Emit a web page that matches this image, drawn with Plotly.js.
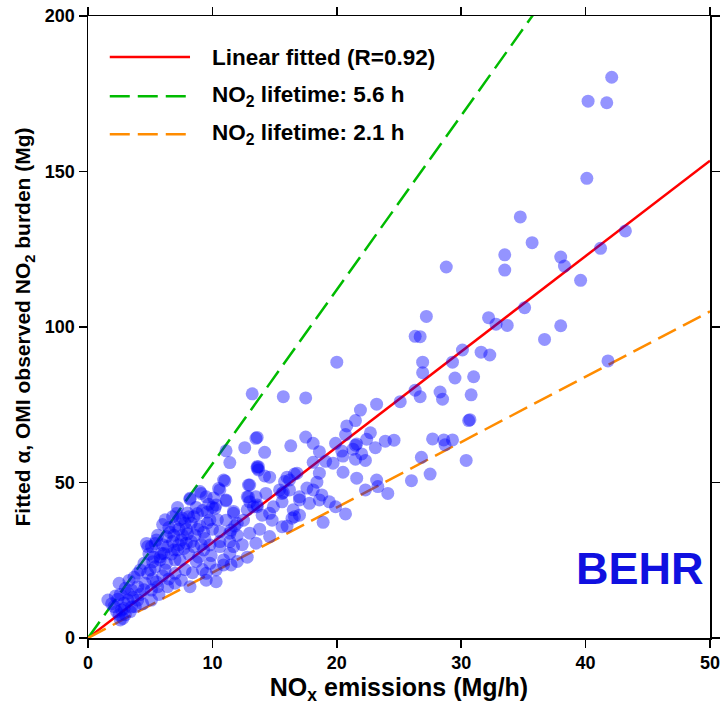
<!DOCTYPE html>
<html>
<head>
<meta charset="utf-8">
<script src="https://cdn.plot.ly/plotly-3.0.1.min.js"></script>
<style>html,body{margin:0;padding:0;background:#fff;}</style>
</head>
<body>
<div id="chart" style="width:722px;height:713px;"></div>
<script>
// NOx emissions (Mg/h) and fitted NO2 burden (Mg)
const noxEmissions = [
 1.6,1.9,2.1,2.3,2.5,2.6,2.7,2.8,2.9,3.0,3.2,3.2,3.5,3.5,3.8,4.0,4.0,3.3,2.4,2.2,3.0,3.7,4.2,4.4,2.6,3.4,
 4.6,4.8,4.8,5.1,5.1,5.4,5.4,5.6,5.9,5.5,5.1,4.7,5.8,5.0,4.2,5.8,4.5,5.2,5.7,4.5,5.3,4.9,5.5,6.0,
 6.2,6.3,6.4,6.4,6.3,7.2,7.0,7.0,7.5,6.9,6.1,7.4,7.7,7.0,6.6,7.0,7.4,6.8,7.6,7.9,6.5,7.8,7.3,6.0,7.2,6.8,
 8.2,8.2,8.5,8.7,9.0,9.5,9.1,9.3,9.8,9.8,9.5,9.5,8.2,8.0,8.8,9.6,8.3,9.0,9.8,8.6,9.4,10.0,8.1,8.9,9.2,8.4,10.0,9.7,8.5,9.3,7.6,9.9,
 10.3,10.3,10.9,11.4,10.6,11.7,10.9,11.5,12.0,10.6,11.4,10.6,11.5,11.4,11.1,10.2,10.3,11.1,11.7,11.1,10.5,10.6,10.9,11.0,11.4,11.1,11.7,10.4,11.8,12.0,10.1,
 12.6,13.2,13.5,13.6,13.7,13.0,12.9,12.8,12.9,13.5,13.0,13.6,13.3,12.8,12.5,12.0,13.0,14.0,14.2,14.2,13.6,13.7,13.6,13.6,12.4,13.5,12.8,13.8,
 14.6,14.3,14.9,14.8,14.6,14.6,15.6,15.6,15.6,15.8,15.4,16.0,16.2,16.2,16.6,16.0,16.4,16.5,16.6,17.0,17.0,16.3,15.7,17.5,17.5,16.8,17.0,15.7,
 17.8,18.6,18.8,19.4,19.9,20.7,18.9,18.1,17.6,18.4,18.6,18.1,19.7,19.1,20.5,18.6,18.1,19.9,20.4,20.0,20.5,
 20.8,20.7,21.5,21.9,23.2,25.1,21.5,22.7,22.4,21.6,21.3,22.0,22.3,21.5,23.1,23.9,24.6,21.6,23.2,23.3,24.1,22.3,
 26.0,27.5,26.8,30.4,27.7,28.6,29.3,28.7,30.6,30.7,26.3,26.7,28.3,28.5,30.8,29.5,31.0,26.9,26.9,29.3,26.3,26.7,27.2,28.8,30.1,31.6,32.3,32.2,32.8,33.7,33.5,33.5,
 34.75,35.7,35.1,36.7,38.0,38.3,39.6,38.0,41.2,43.2,41.8,40.2,41.7,42.1,40.1,
 5.6,6.0,6.5,6.9,7.3,7.8,8.1,8.7,9.2,9.6,8.8,8.3,7.5,6.7,7.9,9.1,8.0,6.2,7.1,5.2,4.0,3.6,2.9,2.5
];
const no2Burden = [
 12.2,11.0,10.1,8.5,17.6,14.0,9.0,6.3,11.2,7.5,12.2,14.4,15.4,10.0,10.1,12.2,20.8,18.5,12.5,13.5,16.0,19.5,14.0,11.0,5.8,8.5,
 17.6,20.8,29.4,15.4,12.2,30.4,22.9,16.5,27.2,31.5,29.4,30.4,26.1,21.9,21.9,25.1,24.0,19.0,14.0,15.5,26.0,27.0,18.0,20.0,
 21.9,24.0,29.4,16.5,32.6,28.3,25.1,17.6,18.6,28.3,27.2,25.1,28.8,20.8,34.0,36.0,38.0,31.0,33.0,35.0,19.0,22.0,30.0,36.5,42.0,39.0,
 44.6,44.9,29.4,24.6,47.1,45.4,46.5,28.3,29.9,24.0,20.8,18.6,16.5,40.2,40.0,40.5,37.0,36.0,38.0,33.0,32.0,35.0,27.0,26.0,22.0,21.0,42.0,43.0,39.0,34.0,38.5,26.5,
 21.9,18.1,23.5,27.2,29.4,29.4,25.1,23.5,24.6,31.0,31.0,34.2,34.7,33.7,37.9,41.7,42.8,44.1,40.7,44.4,48.1,47.6,50.8,50.5,56.4,60.2,40.1,38.0,36.0,33.0,45.0,
 61.2,78.5,64.2,54.6,54.0,49.2,49.2,45.4,45.4,45.4,43.8,42.8,42.2,41.2,37.9,36.9,33.7,39.5,59.7,52.1,55.1,55.1,64.5,42.2,30.0,30.5,26.0,35.0,
 51.7,46.5,42.2,37.9,40.1,32.6,35.8,46.5,43.8,50.3,47.6,51.7,47.6,50.8,52.7,36.0,38.5,41.2,39.0,39.5,44.4,61.8,77.6,77.2,64.6,53.0,45.4,46.8,
 43.3,44.4,46.0,43.8,42.2,39.9,37.2,47.6,48.2,50.1,53.0,56.5,56.2,56.8,53.3,59.9,62.6,62.6,60.1,88.7,58.5,
 68.2,65.4,69.9,73.3,75.2,76.0,62.0,66.0,63.9,62.4,60.7,59.2,57.1,57.5,61.2,63.3,63.6,51.4,50.8,48.7,46.5,47.6,
 50.6,52.7,58.1,57.1,64.0,63.7,63.7,62.1,69.9,70.2,79.7,77.6,79.1,76.8,78.2,83.6,84.0,85.3,88.7,88.7,97.0,96.9,103.4,119.3,92.6,91.9,91.0,103.0,100.9,100.5,123.2,118.3,
 135.4,127.1,106.2,96.0,122.5,119.6,115.0,100.4,125.3,130.9,89.1,172.6,172.1,180.3,147.8,
 33.0,30.0,35.5,33.0,35.0,37.0,39.0,42.0,41.0,37.0,35.0,31.0,31.5,27.0,30.5,30.0,33.5,38.0,40.0,24.5,16.5,13.0,9.5,7.5
];
// reference lines (endpoints)
const fitX = [0, 50];
const fitY = [0, 153.5];
const life56X = [0, 50];
const life56Y = [0, 280];
const life21X = [0, 50];
const life21Y = [0, 105];
const legendLabels = ["Linear fitted (R=0.92)", "NO<sub>2</sub> lifetime: 5.6 h", "NO<sub>2</sub> lifetime: 2.1 h"];
const legendColors = ["#ff0000", "#00bb00", "#ff8c00"];
const legendDash = ["solid", "20px,8px", "20px,8px"];
const xTicks = [0, 10, 20, 30, 40, 50];
const yTicks = [0, 50, 100, 150, 200];

const FONT = "Liberation Sans, Arial, sans-serif";

const traces = [
  {x: fitX, y: fitY, mode: "lines", line: {color: legendColors[0], width: 2.5, dash: legendDash[0]}, showlegend: false, hoverinfo: "skip"},
  {x: life56X, y: life56Y, mode: "lines", line: {color: legendColors[1], width: 2.5, dash: legendDash[1]}, showlegend: false, hoverinfo: "skip"},
  {x: life21X, y: life21Y, mode: "lines", line: {color: legendColors[2], width: 2.5, dash: legendDash[2]}, showlegend: false, hoverinfo: "skip"},
  {x: noxEmissions, y: no2Burden, mode: "markers", type: "scatter",
   marker: {color: "rgb(0,0,255)", opacity: 0.42, size: 13, line: {width: 0}}, showlegend: false}
];

const legendRowsY = [0.934, 0.871, 0.810];
const shapes = [];
const annotations = [];
for (let i = 0; i < legendLabels.length; i++) {
  shapes.push({type: "line", xref: "paper", yref: "paper", x0: 0.035, x1: 0.164, y0: legendRowsY[i], y1: legendRowsY[i],
    line: {color: legendColors[i], width: 2.5, dash: legendDash[i]}});
  annotations.push({xref: "paper", yref: "paper", x: 0.196, y: legendRowsY[i], xanchor: "left", yanchor: "middle",
    text: "<b>" + legendLabels[i] + "</b>", showarrow: false, font: {family: FONT, size: 22.5, color: "#000"}});
}
annotations.push({xref: "paper", yref: "paper", x: 0.887, y: 0.112, xanchor: "center", yanchor: "middle",
  text: "<b>BEHR</b>", showarrow: false, font: {family: FONT, size: 45, color: "#1010e0"}});

const axisCommon = {
  showgrid: false, zeroline: false, showline: true, linecolor: "#000", linewidth: 1.5,
  mirror: "ticks", ticks: "outside", ticklen: 8, tickwidth: 1.5, tickcolor: "#000",
  tickfont: {family: FONT, size: 18, color: "#000", weight: "bold"}
};

const layout = {
  width: 722, height: 713,
  margin: {l: 88, r: 12, t: 16, b: 75},
  paper_bgcolor: "#fff", plot_bgcolor: "#fff",
  xaxis: Object.assign({}, axisCommon, {range: [0, 50], tickvals: xTicks, ticktext: xTicks.map(String),
    title: {text: "<b>NO<sub>x</sub> emissions (Mg/h)</b>", font: {family: FONT, size: 25, color: "#000"}, standoff: 4}}),
  yaxis: Object.assign({}, axisCommon, {range: [0, 200], tickvals: yTicks, ticktext: yTicks.map(String),
    title: {text: "<b>Fitted α, OMI observed NO<sub>2</sub> burden (Mg)</b>", font: {family: FONT, size: 21, color: "#000"}, standoff: 8}}),
  shapes: shapes,
  annotations: annotations,
  showlegend: false
};

Plotly.newPlot("chart", traces, layout, {displayModeBar: false, staticPlot: true});
</script>
</body>
</html>
